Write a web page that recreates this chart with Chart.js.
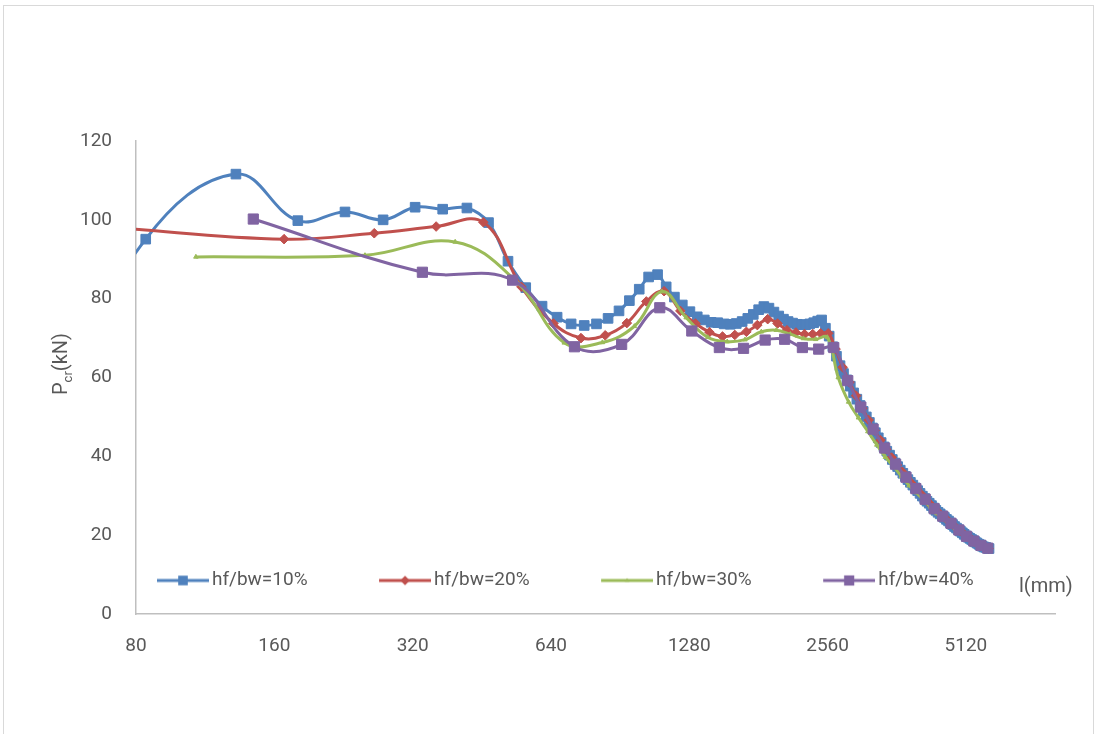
<!DOCTYPE html>
<html>
<head>
<meta charset="utf-8">
<script src="https://cdn.jsdelivr.net/npm/chart.js@4.4.1/dist/chart.umd.min.js"></script>
<style>
  html, body { margin: 0; padding: 0; background: #fff; }
  body { width: 1097px; height: 734px; position: relative; overflow: hidden; }
  #frame { position: absolute; left: 3px; top: 5px; width: 1089px; height: 780px; border: 1px solid #d9d9d9; }
  #chart { position: absolute; left: 0; top: 0; }
</style>
</head>
<body>
<div id="frame"></div>
<canvas id="chart" width="1097" height="734"></canvas>
<script>
// Data (l in mm, Pcr in kN)
const seriesNames = ['hf/bw=10%', 'hf/bw=20%', 'hf/bw=30%', 'hf/bw=40%'];
const xTicks = [80, 160, 320, 640, 1280, 2560, 5120];
const yTicks = [0, 20, 40, 60, 80, 100, 120];

const lBlue = [
  36, 84, 132, 180, 228, 276, 324, 372, 420, 468,
  516, 564, 612, 660, 708, 756, 804, 852, 900, 948,
  996, 1044, 1092, 1140, 1188, 1236, 1284, 1332, 1380, 1428,
  1476, 1524, 1572, 1620, 1668, 1716, 1764, 1812, 1860, 1908,
  1956, 2004, 2052, 2100, 2148, 2196, 2244, 2292, 2340, 2388,
  2436, 2484, 2532, 2580, 2628, 2676, 2724, 2772, 2820, 2868,
  2916, 2964, 3012, 3060, 3108, 3156, 3204, 3252, 3300, 3348,
  3396, 3444, 3492, 3540, 3588, 3636, 3684, 3732, 3780, 3828,
  3876, 3924, 3972, 4020, 4068, 4116, 4164, 4212, 4260, 4308,
  4356, 4404, 4452, 4500, 4548, 4596, 4644, 4692, 4740, 4788,
  4836, 4884, 4932, 4980, 5028, 5076, 5124, 5172, 5220, 5268,
  5316, 5364, 5412, 5460, 5508, 5556, 5604, 5652, 5700, 5748
];
const pBlue = [
  25, 95.1, 111.6, 99.8, 102.0, 100.0, 103.2, 102.7, 103.0, 99.3,
  89.5, 82.8, 78.1, 75.3, 73.6, 73.2, 73.6, 75.0, 76.9, 79.5,
  82.4, 85.5, 86.1, 83.0, 80.4, 78.4, 76.7, 75.4, 74.6, 74.0,
  73.9, 73.6, 73.5, 73.7, 74.2, 75.0, 76.0, 77.2, 78.0, 77.6,
  76.6, 75.6, 74.8, 74.2, 73.8, 73.5, 73.4, 73.4, 73.6, 73.9,
  74.3, 74.6, 72.5, 70.5, 67.8, 65.4, 63.0, 61.0, 59.4, 57.8,
  56.1, 54.5, 52.9, 51.4, 50.0, 48.6, 47.2, 46.0, 44.7, 43.5,
  42.4, 41.3, 40.3, 39.2, 38.3, 37.4, 36.5, 35.7, 34.9, 34.1,
  33.4, 32.7, 32.0, 31.3, 30.6, 29.9, 29.3, 28.6, 28.1, 27.5,
  26.9, 26.3, 25.8, 25.4, 24.9, 24.5, 24.0, 23.6, 23.1, 22.7,
  22.2, 21.8, 21.4, 21.0, 20.6, 20.2, 19.8, 19.5, 19.2, 18.9,
  18.6, 18.3, 18.0, 17.7, 17.5, 17.2, 17.0, 16.9, 16.7, 16.6
];

const lRed = [
  72, 168, 264, 360, 456, 552, 648, 744, 840, 936,
  1032, 1128, 1224, 1320, 1416, 1512, 1608, 1704, 1800, 1896,
  1992, 2088, 2184, 2280, 2376, 2472, 2568, 2664, 2760, 2856,
  2952, 3048, 3144, 3240, 3336, 3432, 3528, 3624, 3720, 3816,
  3912, 4008, 4104, 4200, 4296, 4392, 4488, 4584, 4680, 4776,
  4872, 4968, 5064, 5160, 5256, 5352, 5448, 5544, 5640, 5736
];
const pRed = [
  98.0, 95.1, 96.6, 98.3, 99.4, 83.0, 73.7, 70.0, 70.7, 73.8,
  79.3, 81.9, 76.9, 73.7, 71.5, 70.4, 70.8, 71.6, 73.3, 74.8,
  73.7, 72.0, 71.4, 71.0, 71.0, 71.2, 71.2, 67.2, 62.6, 58.8,
  55.4, 52.2, 49.2, 46.6, 44.1, 41.8, 39.7, 37.8, 36.1, 34.5,
  33.0, 31.6, 30.2, 28.9, 27.7, 26.5, 25.5, 24.6, 23.7, 22.8,
  21.9, 21.1, 20.3, 19.6, 19.0, 18.4, 17.8, 17.3, 16.9, 16.6
];

const lGreen = [
  108, 252, 396, 540, 684, 828, 972, 1116, 1260, 1404,
  1548, 1692, 1836, 1980, 2124, 2268, 2412, 2556, 2700, 2844,
  2988, 3132, 3276, 3420, 3564, 3708, 3852, 3996, 4140, 4284,
  4428, 4572, 4716, 4860, 5004, 5148, 5292, 5436, 5580, 5724
];
const pGreen = [
  90.6, 91.0, 94.4, 84.2, 68.8, 68.9, 73.0, 81.8, 75.2, 70.2,
  69.1, 69.6, 71.6, 72.0, 71.0, 69.9, 69.7, 70.2, 60.0, 53.8,
  49.8, 46.3, 42.9, 39.8, 37.4, 34.9, 32.6, 30.8, 28.9, 27.2,
  25.5, 24.2, 22.9, 21.7, 20.7, 19.7, 18.8, 17.8, 16.9, 16.3
];

const lPurple = [
  144, 336, 528, 720, 912, 1104, 1296, 1488, 1680, 1872,
  2064, 2256, 2448, 2640, 2832, 3024, 3216, 3408, 3600, 3792,
  3984, 4176, 4368, 4560, 4752, 4944, 5136, 5328, 5520, 5712
];
const pPurple = [
  100.2, 86.7, 84.7, 67.8, 68.4, 77.7, 71.8, 67.6, 67.4, 69.5,
  69.7, 67.6, 67.2, 67.6, 59.2, 52.5, 46.9, 42.1, 38.0, 34.7,
  31.8, 29.1, 26.7, 24.8, 23.0, 21.3, 19.7, 18.5, 17.4, 16.7
];

const yTitleParts = ['P', 'cr', '(kN)'];
const xTitle = 'l(mm)';

// Styles
const colors = ['#4F81BD', '#C0504D', '#9BBB59', '#8064A2'];
const textColor = '#595959';
const axisColor = '#BFBFBF';
const fontFamily = 'Roboto, "Liberation Sans", sans-serif';
const tickFont = { family: fontFamily, size: 19 };

Chart.defaults.font.family = fontFamily;

function pairs(xs, ys) {
  return xs.map((x, i) => ({ x: x, y: ys[i] }));
}

// Legend swatch: line with marker in the middle (Excel style)
function drawMarker(ctx, style, x, y, r, color) {
  ctx.fillStyle = color;
  ctx.beginPath();
  if (style === 'rect') {
    const s = r * Math.SQRT1_2;
    ctx.rect(x - s, y - s, 2 * s, 2 * s);
  } else if (style === 'rectRot') {
    ctx.moveTo(x - r, y); ctx.lineTo(x, y - r); ctx.lineTo(x + r, y); ctx.lineTo(x, y + r);
    ctx.closePath();
  } else {
    ctx.moveTo(x, y - r); ctx.lineTo(x + r * 0.87, y + r / 2); ctx.lineTo(x - r * 0.87, y + r / 2);
    ctx.closePath();
  }
  ctx.fill();
}

const pointStyles = ['rect', 'rectRot', 'triangle', 'rect'];
const pointSizes = [6.8, 4.8, 2.6, 7.2];

function makeSwatch(i) {
  const c = document.createElement('canvas');
  c.width = 120; c.height = 16;
  const ctx = c.getContext('2d');
  ctx.strokeStyle = colors[i];
  ctx.lineWidth = 3;
  ctx.beginPath();
  ctx.moveTo(68, 8); ctx.lineTo(120, 8);
  ctx.stroke();
  drawMarker(ctx, pointStyles[i], 94, 8, pointSizes[i], colors[i]);
  return c;
}
const swatches = [0, 1, 2, 3].map(makeSwatch);

// Put the legend inside the plot area, above the x axis
const legendInside = {
  id: 'legendInside',
  afterLayout(chart) {
    const lg = chart.legend;
    lg.left = 85.5;
    lg.top = chart.chartArea.bottom - 53;
  }
};

// Axis titles (y title has a subscript)
const axisTitles = {
  id: 'axisTitles',
  afterDraw(chart) {
    const { ctx, chartArea } = chart;
    const big = '20px ' + fontFamily;
    const small = '13px ' + fontFamily;
    ctx.save();
    ctx.fillStyle = textColor;
    ctx.textAlign = 'left';
    ctx.textBaseline = 'alphabetic';
    ctx.font = big;
    const w0 = ctx.measureText(yTitleParts[0]).width;
    const w2 = ctx.measureText(yTitleParts[2]).width;
    ctx.font = small;
    const w1 = ctx.measureText(yTitleParts[1]).width;
    ctx.translate(67, 364);
    ctx.rotate(-Math.PI / 2);
    let x = -(w0 + w1 + w2) / 2;
    ctx.font = big; ctx.fillText(yTitleParts[0], x, 0); x += w0;
    ctx.font = small; ctx.fillText(yTitleParts[1], x, 5); x += w1;
    ctx.font = big; ctx.fillText(yTitleParts[2], x, 0);
    ctx.restore();

    ctx.save();
    ctx.fillStyle = textColor;
    ctx.font = big;
    ctx.textAlign = 'left';
    ctx.textBaseline = 'middle';
    ctx.fillText(xTitle, chartArea.right - 36, chartArea.bottom - 27);
    ctx.restore();
  }
};

const dataSets = [
  [lBlue, pBlue], [lRed, pRed], [lGreen, pGreen], [lPurple, pPurple]
].map(([xs, ys], i) => ({
  label: seriesNames[i],
  data: pairs(xs, ys),
  borderColor: colors[i],
  backgroundColor: colors[i],
  pointBackgroundColor: colors[i],
  pointBorderColor: colors[i],
  pointBorderWidth: 1,
  pointStyle: pointStyles[i],
  pointRadius: pointSizes[i],
  borderWidth: 3,
  tension: 0.4,
  fill: false,
  order: 4 - i
}));

new Chart(document.getElementById('chart'), {
  type: 'line',
  data: { datasets: dataSets },
  options: {
    responsive: false,
    animation: false,
    events: [],
    layout: { padding: { top: 141, right: 42, bottom: 0, left: 0 } },
    elements: { line: { capBezierPoints: false } },
    plugins: {
      tooltip: { enabled: false },
      legend: {
        position: 'bottom',
        align: 'start',
        maxHeight: 1,
        labels: {
          usePointStyle: true,
          pointStyleWidth: 107,
          padding: 10,
          color: textColor,
          font: tickFont,
          sort: (a, b) => a.datasetIndex - b.datasetIndex,
          generateLabels(chart) {
            const items = Chart.defaults.plugins.legend.labels.generateLabels(chart);
            items.forEach(it => { it.pointStyle = swatches[it.datasetIndex]; });
            return items;
          }
        }
      }
    },
    scales: {
      x: {
        type: 'logarithmic',
        min: 80,
        max: 8000,
        afterBuildTicks: s => { s.ticks = xTicks.map(v => ({ value: v })); },
        afterFit: s => { s.height = 119; },
        grid: { display: false },
        border: { color: axisColor, width: 1.5 },
        ticks: {
          callback: v => String(v),
          color: textColor,
          font: tickFont,
          padding: 13,
          maxRotation: 0,
          autoSkip: false
        }
      },
      y: {
        min: 0,
        max: 120,
        afterBuildTicks: s => { s.ticks = yTicks.map(v => ({ value: v })); },
        afterFit: s => { s.width = 136; },
        grid: { display: false },
        border: { color: axisColor, width: 1.5 },
        ticks: {
          color: textColor,
          font: tickFont,
          padding: 16
        }
      }
    }
  },
  plugins: [legendInside, axisTitles]
});
</script>
</body>
</html>
